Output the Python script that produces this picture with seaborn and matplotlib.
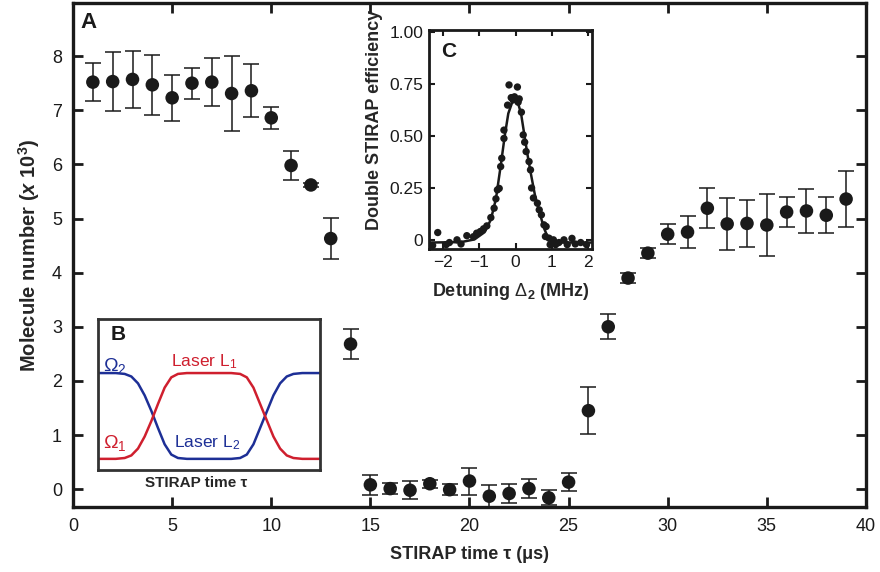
import matplotlib
matplotlib.use("Agg")
import matplotlib.pyplot as plt
import seaborn as sns
import pandas as pd

# main panel A: molecule number vs STIRAP time
tau_us = [1, 2, 3, 4, 5, 6, 7, 8, 9, 10, 11, 12, 13, 14, 15, 16, 17, 18, 19, 20,
          21, 22, 23, 24, 25, 26, 27, 28, 29, 30, 31, 32, 33, 34, 35, 36, 37, 38, 39]
molecules = [7.52, 7.53, 7.57, 7.47, 7.23, 7.50, 7.52, 7.31, 7.36, 6.86,
             5.98, 5.62, 4.63, 2.68, 0.08, 0.01, -0.02, 0.10, -0.01, 0.15,
             -0.13, -0.08, 0.01, -0.16, 0.13, 1.45, 3.00, 3.90, 4.36, 4.71,
             4.75, 5.19, 4.90, 4.91, 4.88, 5.12, 5.14, 5.06, 5.36]
mol_err = [0.35, 0.54, 0.52, 0.55, 0.42, 0.29, 0.45, 0.70, 0.49, 0.20,
           0.26, 0.04, 0.38, 0.28, 0.19, 0.10, 0.17, 0.07, 0.10, 0.25,
           0.20, 0.17, 0.18, 0.14, 0.16, 0.44, 0.23, 0.09, 0.09, 0.18,
           0.30, 0.37, 0.48, 0.43, 0.57, 0.28, 0.41, 0.33, 0.51]

# inset C: double STIRAP efficiency vs detuning
detuning = [-2.28, -2.14, -1.91, -1.82, -1.61, -1.50, -1.34, -1.16, -1.07, -0.97,
            -0.88, -0.79, -0.68, -0.59, -0.54, -0.50, -0.45, -0.41, -0.38, -0.32,
            -0.32, -0.22, -0.18, -0.12, -0.07, -0.03, 0.05, 0.07, 0.10, 0.16,
            0.21, 0.25, 0.29, 0.37, 0.41, 0.44, 0.49, 0.60, 0.65, 0.71,
            0.78, 0.84, 0.82, 0.92, 0.95, 1.04, 1.10, 1.19, 1.33, 1.42,
            1.55, 1.64, 1.79, 1.95]
efficiency = [-0.024, 0.038, -0.02, -0.01, 0.003, -0.017, 0.023, 0.018, 0.035, 0.043,
              0.056, 0.07, 0.11, 0.155, 0.20, 0.243, 0.25, 0.355, 0.395, 0.49,
              0.53, 0.65, 0.747, 0.686, 0.675, 0.69, 0.737, 0.664, 0.68, 0.616,
              0.507, 0.472, 0.427, 0.379, 0.339, 0.252, 0.204, 0.179, 0.147, 0.123,
              0.075, 0.067, 0.019, 0.011, -0.02, 0.003, -0.02, -0.01, 0.003, -0.02,
              0.01, -0.017, -0.01, -0.02]
fit_x = [-2.38, -1.5, -1.13, -0.85, -0.68, -0.54, -0.4, -0.3, -0.2, -0.07,
         0.05, 0.15, 0.23, 0.32, 0.41, 0.53, 0.65, 0.78, 0.92, 1.0, 2.1]
fit_y = [-0.01, -0.008, 0.005, 0.04, 0.10, 0.20, 0.37, 0.50, 0.61, 0.675,
         0.67, 0.61, 0.52, 0.42, 0.33, 0.22, 0.14, 0.06, 0.0, -0.01, -0.01]

# inset B: pulse sequence sketch (arbitrary units)
pulse_t = [0, 8, 12, 15, 18, 21, 24, 27, 30, 33, 36, 40, 50, 60, 64,
           67, 70, 73, 76, 79, 82, 85, 88, 92, 100]
omega2 = [1, 1, 0.99, 0.96, 0.88, 0.74, 0.56, 0.36, 0.17, 0.05, 0.01, 0, 0, 0, 0.01,
          0.05, 0.17, 0.36, 0.55, 0.74, 0.88, 0.96, 0.99, 1, 1]
omega1 = [0, 0, 0.01, 0.04, 0.12, 0.26, 0.44, 0.64, 0.83, 0.95, 0.99, 1, 1, 1, 0.99,
          0.95, 0.83, 0.64, 0.45, 0.26, 0.12, 0.04, 0.01, 0, 0]

red = "#cf1f2e"
blue = "#1d2f96"
ink = "#1a1a1a"

sns.set_theme(style="ticks")
plt.rcParams["font.family"] = ["Liberation Sans", "DejaVu Sans"]
plt.rcParams["mathtext.fontset"] = "custom"
plt.rcParams["mathtext.rm"] = "Liberation Sans"
plt.rcParams["mathtext.it"] = "Liberation Sans:italic"
plt.rcParams["mathtext.bf"] = "Liberation Sans:bold"
plt.rcParams["mathtext.bfit"] = "Liberation Sans:bold:italic"

fig = plt.figure(figsize=(8.8, 5.72), dpi=100)
ax = fig.add_axes([0.083, 0.1136, 0.901, 0.881])

df_a = pd.DataFrame({"tau": tau_us, "n": molecules})
ax.errorbar(tau_us, molecules, yerr=mol_err, fmt="none", ecolor=ink,
            elinewidth=1.1, capsize=6, capthick=1.1, zorder=2)
sns.scatterplot(data=df_a, x="tau", y="n", ax=ax, color=ink, s=95,
                edgecolor="none", zorder=3, legend=False)
ax.set_xlim(0, 40)
ax.set_ylim(-0.33, 8.98)
ax.set_xticks(range(0, 41, 5))
ax.set_yticks(range(0, 9))
ax.tick_params(direction="in", top=True, right=True, length=7, width=2,
               labelsize=13, pad=8, colors=ink)
for s in ax.spines.values():
    s.set_linewidth(2.4)
    s.set_color(ink)
ax.set_xlabel("STIRAP time τ (μs)", fontsize=13, fontweight="bold", labelpad=8)
ax.set_ylabel(r"Molecule number ($\mathbfit{x}$ 10$^{\mathbf{3}}$)", fontsize=14.5,
              fontweight="bold", labelpad=7)
ax.text(0.019, 0.962, "A", transform=ax.transAxes, fontsize=16, fontweight="bold",
        ha="center", va="center", color=ink)

# inset C
axc = fig.add_axes([0.4875, 0.5647, 0.1852, 0.3829])
df_c = pd.DataFrame({"d": detuning, "e": efficiency})
df_fit = pd.DataFrame({"d": fit_x, "e": fit_y})
sns.lineplot(data=df_fit, x="d", y="e", ax=axc, color=ink, lw=1.8, zorder=2)
sns.scatterplot(data=df_c, x="d", y="e", ax=axc, color=ink, s=28,
                edgecolor="none", zorder=3, legend=False)
axc.set_xlim(-2.38, 2.1)
axc.set_ylim(-0.041, 1.011)
axc.set_xticks([-2, -1, 0, 1, 2])
axc.set_yticks([0, 0.25, 0.5, 0.75, 1.0])
axc.set_yticklabels(["0", "0.25", "0.50", "0.75", "1.00"])
axc.tick_params(direction="in", top=True, right=True, length=4, width=1.5,
                labelsize=12.5, pad=4, colors=ink)
for s in axc.spines.values():
    s.set_linewidth(2.0)
    s.set_color(ink)
axc.set_xlabel(r"Detuning $\Delta_{\mathbf{2}}$ (MHz)", fontsize=13,
               fontweight="bold", labelpad=8)
axc.set_ylabel("Double STIRAP efficiency", fontsize=13, fontweight="bold",
               labelpad=5, y=0.59)
axc.text(0.12, 0.9, "C", transform=axc.transAxes, fontsize=15, fontweight="bold",
         ha="center", va="center", color=ink)

# inset B
axb = fig.add_axes([0.1114, 0.1783, 0.2523, 0.264])
df_b = pd.DataFrame({"t": pulse_t, "o1": omega1, "o2": omega2})
sns.lineplot(data=df_b, x="t", y="o2", ax=axb, color=blue, lw=1.8)
sns.lineplot(data=df_b, x="t", y="o1", ax=axb, color=red, lw=1.8)
axb.set_xlim(0, 100)
axb.set_ylim(-0.13, 1.63)
axb.set_xticks([])
axb.set_yticks([])
axb.set_ylabel("")
for s in axb.spines.values():
    s.set_linewidth(2.0)
    s.set_color("#333333")
axb.set_xlabel("STIRAP time τ", fontsize=11, fontweight="bold", labelpad=4, x=0.44)
axb.text(0.09, 0.9, "B", transform=axb.transAxes, fontsize=15, fontweight="bold",
         ha="center", va="center", color=ink)
axb.text(0.075, 0.69, r"$\Omega_2$", transform=axb.transAxes, fontsize=14,
         color=blue, ha="center", va="center")
axb.text(0.075, 0.18, r"$\Omega_1$", transform=axb.transAxes, fontsize=14,
         color=red, ha="center", va="center")
axb.text(0.48, 0.72, r"Laser L$_1$", transform=axb.transAxes, fontsize=12.5,
         color=red, ha="center", va="center")
axb.text(0.49, 0.18, r"Laser L$_2$", transform=axb.transAxes, fontsize=12.5,
         color=blue, ha="center", va="center")

fig.savefig("out.png", dpi=100)
